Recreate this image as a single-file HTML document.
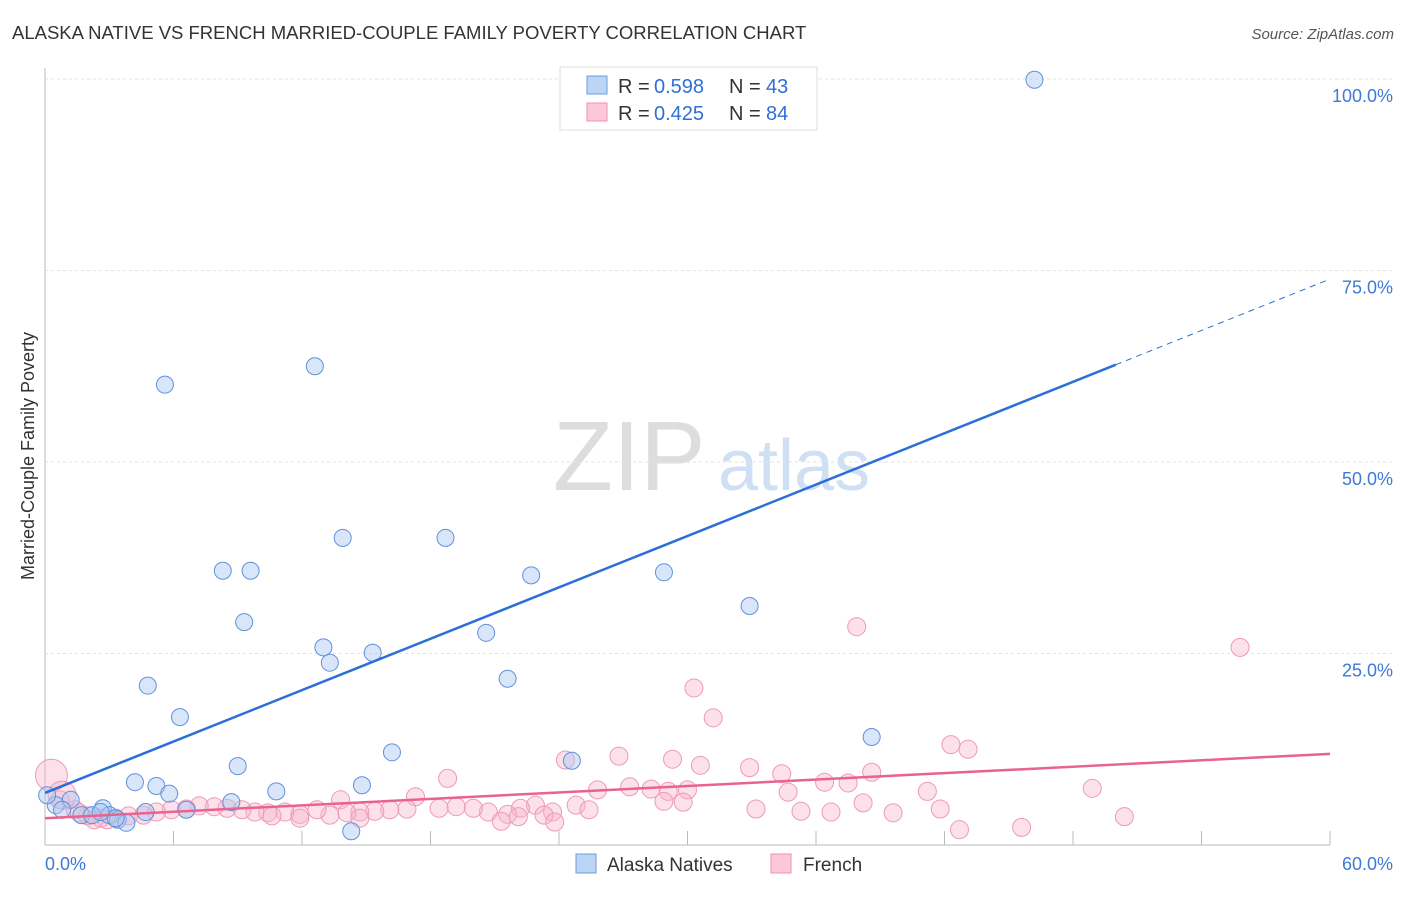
<!DOCTYPE html>
<html><head><meta charset="utf-8"><style>
body{margin:0;background:#fff;font-family:"Liberation Sans",sans-serif;}
svg text{font-family:"Liberation Sans",sans-serif;}
</style></head><body>
<svg width="1406" height="892" id="c">
<text x="12" y="39" font-size="18.5" fill="#333">ALASKA NATIVE VS FRENCH MARRIED-COUPLE FAMILY POVERTY CORRELATION CHART</text>
<text x="1394" y="39" font-size="15" fill="#555" text-anchor="end" font-style="italic">Source: ZipAtlas.com</text>
<text x="553" y="490" font-size="98" fill="#ddd" font-family="Liberation Serif">ZIP</text>
<text x="718" y="490" font-size="72" fill="#cfe0f5">atlas</text>
<text transform="translate(34,456) rotate(-90)" font-size="18" fill="#333" text-anchor="middle">Married-Couple Family Poverty</text>
<g id="grid"></g><g id="pts"></g><g id="lines"></g>
<g>
<rect x="560" y="67" width="257" height="63" fill="#fff" stroke="#ddd"/>
<rect x="587" y="76" width="20" height="18" fill="#bcd5f5" stroke="#6a9be0"/>
<rect x="587" y="103" width="20" height="18" fill="#fbc8d8" stroke="#ef90b0"/>
<text x="618" y="93" font-size="20" fill="#333">R =</text><text x="654" y="93" font-size="20" fill="#2f6fd6">0.598</text>
<text x="729" y="93" font-size="20" fill="#333">N =</text><text x="766" y="93" font-size="20" fill="#2f6fd6">43</text>
<text x="618" y="120" font-size="20" fill="#333">R =</text><text x="654" y="120" font-size="20" fill="#2f6fd6">0.425</text>
<text x="729" y="120" font-size="20" fill="#333">N =</text><text x="766" y="120" font-size="20" fill="#2f6fd6">84</text>
</g>
<g>
<rect x="576" y="854" width="20" height="19" fill="#bcd5f5" stroke="#6a9be0"/>
<text x="607" y="871" font-size="19" fill="#333">Alaska Natives</text>
<rect x="771" y="854" width="20" height="19" fill="#fbc8d8" stroke="#ef90b0"/>
<text x="803" y="871" font-size="19" fill="#333">French</text>
</g>
</svg>
<script>
const yTicks=[25,50,75,100];
const yTickLabels=["25.0%","50.0%","75.0%","100.0%"];
const xTicks=[0,6,12,18,24,30,36,42,48,54,60];
const blueX=[46.2,12.6,5.6,13.9,18.7,8.3,9.6,22.7,28.9,32.9,9.3,20.6,13.0,15.3,13.3,21.6,4.8,6.3,38.6,16.2,24.6,9.0,4.2,5.2,14.8,5.8,10.8,8.7,0.5,1.2,2.7,0.8,1.7,4.7,6.6,2.2,3.0,3.4,3.8,14.3,0.1,2.6,3.3];
const blueY=[99.9,62.5,60.1,40.1,40.1,35.8,35.8,35.2,35.6,31.2,29.1,27.7,25.8,25.1,23.8,21.7,20.8,16.7,14.1,12.1,11.0,10.3,8.2,7.7,7.8,6.7,7.0,5.6,5.2,5.9,4.8,4.6,3.9,4.3,4.6,3.9,3.9,3.3,2.9,1.8,6.5,4.3,3.5];
const pinkX=[37.9,55.8,30.3,31.2,42.3,43.1,24.3,26.8,29.3,30.6,32.9,34.4,38.6,18.8,48.9,17.3,25.8,27.3,28.3,29.1,30.0,36.4,37.5,34.7,41.2,38.2,28.9,29.8,13.8,33.2,35.3,36.7,39.6,41.8,50.4,42.7,45.6,24.8,25.4,23.7,22.9,22.2,21.6,20.7,20.0,19.2,21.3,22.1,23.3,18.4,16.9,16.1,15.4,14.7,14.1,13.3,12.7,11.9,11.2,10.4,9.8,9.2,8.5,7.9,7.2,6.6,5.9,5.2,4.6,3.9,3.3,2.6,2.0,1.4,0.7,0.3,0.8,1.6,2.3,2.9,23.8,11.9,10.6,14.7];
const pinkY=[28.5,25.8,20.5,16.6,13.1,12.5,11.1,11.6,11.2,10.4,10.1,9.3,9.5,8.7,7.4,6.3,7.2,7.6,7.3,7.0,7.2,8.2,8.1,6.9,7.0,5.5,5.7,5.6,5.9,4.7,4.4,4.3,4.2,4.7,3.7,2.0,2.3,5.2,4.6,4.3,5.2,4.8,4.0,4.3,4.8,5.0,3.1,3.7,3.9,4.8,4.7,4.6,4.4,4.3,4.2,3.9,4.6,4.0,4.3,4.2,4.3,4.6,4.8,5.0,5.1,4.7,4.6,4.3,3.9,3.8,3.5,3.5,3.8,4.6,5.9,9.1,6.5,4.2,3.3,3.3,3.0,3.5,3.8,3.5];
const blueLine=[6.8,1.118];
const pinkLine=[3.5,0.14];
const X=v=>45+v*(1285/60), Y=v=>845-v*7.66;
const NS="http://www.w3.org/2000/svg";
function mk(p,t,a){const e=document.createElementNS(NS,t);for(const k in a)e.setAttribute(k,a[k]);p.appendChild(e);return e;}
const g=document.getElementById('grid');
const ax=mk(g,'line',{x1:45,y1:68,x2:45,y2:845,stroke:'#bbb'});


const bx=mk(g,'line',{x1:45,y1:845,x2:1330,y2:845,stroke:'#bbb'});


yTicks.forEach((t,i)=>{
 const l=mk(g,'line',{x1:45,y1:Y(t),x2:1394,y2:Y(t),stroke:'#e2e2e2','stroke-dasharray':'3,3'});
 
 
 const tx=mk(g,'text',{x:1393,y:Y(t)+23,'font-size':18,fill:'#3d7ad6','text-anchor':'end'});
 tx.textContent=yTickLabels[i];
 
 
});
xTicks.forEach(t=>{
 const l=mk(g,'line',{x1:X(t),y1:845,x2:X(t),y2:831,stroke:'#bbb'});
 
 
});
const x0=mk(g,'text',{x:45,y:870,'font-size':18,fill:'#3d7ad6'});x0.textContent='0.0%';


const x1=mk(g,'text',{x:1393,y:870,'font-size':18,fill:'#3d7ad6','text-anchor':'end'});x1.textContent='60.0%';


const P=document.getElementById('pts');
pinkX.forEach((v,i)=>{
 const r=i==75?16:(i==76?14:9);
 const c=mk(P,'circle',{cx:X(v),cy:Y(pinkY[i]),r:r,fill:'rgba(248,180,202,0.4)',stroke:'#ee9ab5','stroke-width':1});
 
 
});
blueX.forEach((v,i)=>{
 const c=mk(P,'circle',{cx:X(v),cy:Y(blueY[i]),r:8.5,fill:'rgba(170,200,242,0.45)',stroke:'#5f92dc','stroke-width':1});
 
 
});
const L=document.getElementById('lines');
const b1=mk(L,'line',{x1:X(0),y1:Y(blueLine[0]),x2:X(50),y2:Y(blueLine[0]+50*blueLine[1]),stroke:'#2b6fd6','stroke-width':2.5});


const b2=mk(L,'line',{x1:X(50),y1:Y(blueLine[0]+50*blueLine[1]),x2:X(60),y2:Y(blueLine[0]+60*blueLine[1]),stroke:'#2b6fd6','stroke-width':1,'stroke-dasharray':'6,5'});


const p1=mk(L,'line',{x1:X(0),y1:Y(pinkLine[0]),x2:X(60),y2:Y(pinkLine[0]+60*pinkLine[1]),stroke:'#e8638f','stroke-width':2.5});


</script>
</body></html>
